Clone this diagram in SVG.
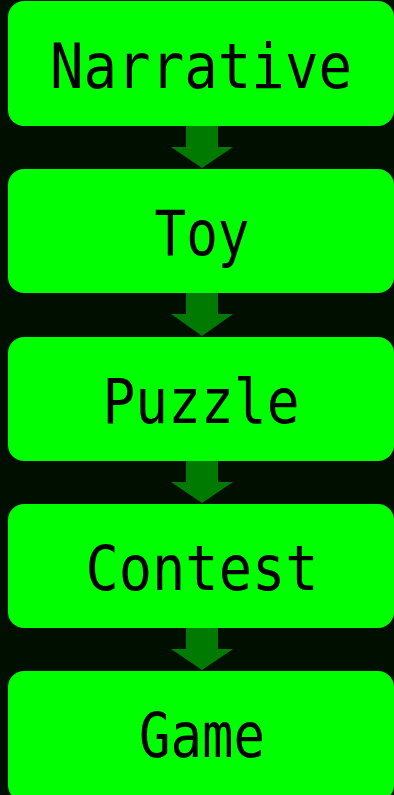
<svg xmlns="http://www.w3.org/2000/svg" width="394" height="795" viewBox="0 0 394 795">
<style>
.box{fill:#00ff00}
.lbl{font-family:"DejaVu Sans Mono","Liberation Mono",monospace;font-size:63px;fill:#000;text-anchor:middle}
.arr{fill:#007a00}
</style>
<rect width="394" height="795" fill="#000f00"/>
<g id="connectors">
<path class="arr" d="M186,126 H218 V147 H233 L202,168 L171,147 H186 Z"/>
<path class="arr" d="M186,293 H218 V314 H233 L202,336 L171,314 H186 Z"/>
<path class="arr" d="M186,461 H218 V482 H233 L202,503 L171,482 H186 Z"/>
<path class="arr" d="M186,628 H218 V649 H233 L202,670 L171,649 H186 Z"/>
</g>
<g id="narrative"><rect class="box" x="8" y="1" width="386" height="125" rx="16"/><text class="lbl" x="201" y="88" textLength="302" lengthAdjust="spacingAndGlyphs">Narrative</text></g>
<g id="toy"><rect class="box" x="8" y="169" width="386" height="124" rx="16"/><text class="lbl" x="202" y="255" textLength="95" lengthAdjust="spacingAndGlyphs">Toy</text></g>
<g id="puzzle"><rect class="box" x="8" y="337" width="386" height="124" rx="16"/><text class="lbl" x="201" y="423" textLength="197" lengthAdjust="spacingAndGlyphs">Puzzle</text></g>
<g id="contest"><rect class="box" x="8" y="504" width="386" height="124" rx="16"/><text class="lbl" x="202" y="590" textLength="233" lengthAdjust="spacingAndGlyphs">Contest</text></g>
<g id="game"><rect class="box" x="8" y="671" width="386" height="130" rx="16"/><text class="lbl" x="202" y="757" textLength="126" lengthAdjust="spacingAndGlyphs">Game</text></g>
</svg>
